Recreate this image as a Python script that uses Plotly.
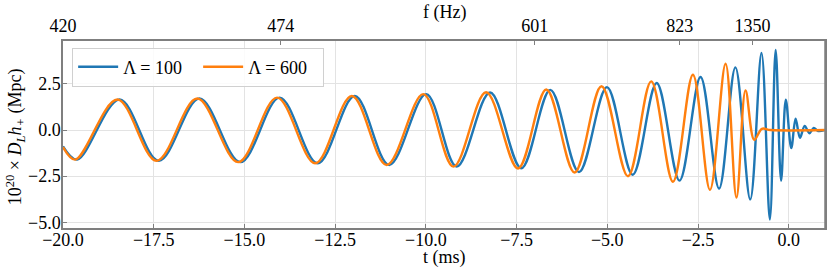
import plotly.graph_objects as go

# ---- data (extrema of each waveform, t in ms) ----
t_l100 = [-20.0, -19.61, -18.44, -17.36, -16.24, -15.11, -14.03, -12.98, -11.96, -11.01,
          -9.99, -9.15, -8.23, -7.37, -6.57, -5.78, -5.01, -4.30, -3.64, -3.01,
          -2.43, -1.92, -1.47, -1.06, -0.75, -0.52, -0.36, -0.21, -0.08, 0.07,
          0.19, 0.31, 0.44, 0.57, 0.69, 0.81, 1.0]
h_l100 = [-0.88, -1.60, 1.66, -1.67, 1.71, -1.74, 1.76, -1.80, 1.85, -1.89,
          1.95, -1.98, 2.04, -2.07, 2.18, -2.28, 2.33, -2.42, 2.55, -2.74,
          2.88, -3.17, 3.40, -3.76, 4.18, -4.85, 4.34, -2.75, 1.65, -0.98,
          0.62, -0.42, 0.23, -0.17, 0.11, -0.05, 0.0]

t_l600 = [-20.0, -19.66, -18.50, -17.42, -16.30, -15.17, -14.10, -13.05, -12.04, -11.08,
          -10.07, -9.24, -8.34, -7.46, -6.68, -5.90, -5.16, -4.43, -3.79, -3.19,
          -2.64, -2.17, -1.74, -1.44, -1.19, -0.95, -0.74, -0.5, 1.0]
h_l600 = [-0.92, -1.60, 1.66, -1.67, 1.71, -1.74, 1.76, -1.80, 1.85, -1.89,
          1.95, -1.98, 2.05, -2.08, 2.20, -2.30, 2.38, -2.50, 2.64, -2.80,
          3.00, -3.24, 3.60, -3.66, 2.15, -0.53, 0.07, 0.0, 0.0]

x_ticks = [-20.0, -17.5, -15.0, -12.5, -10.0, -7.5, -5.0, -2.5, 0.0]
y_ticks = [-5.0, -2.5, 0.0, 2.5]
f_tick_t = [-20, -14, -7, -3, -1]
f_tick_labels = ["420", "474", "601", "823", "1350"]

FONT = "Liberation Serif"
SPINE = "#7f7f7f"
GRID = "#e3e3e3"
TF = dict(family=FONT, size=18, color="black")

fig = go.Figure()
fig.add_trace(go.Scatter(x=t_l100, y=h_l100, mode="lines", name="Λ = 100",
                         line=dict(color="#1f77b4", width=2.4, shape="spline", smoothing=1)))
fig.add_trace(go.Scatter(x=t_l600, y=h_l600, mode="lines", name="Λ = 600",
                         line=dict(color="#ff7f0e", width=2.4, shape="spline", smoothing=1)))
# invisible trace to carry the top frequency axis
fig.add_trace(go.Scatter(x=t_l100, y=h_l100, xaxis="x2", mode="lines", opacity=0,
                         showlegend=False, hoverinfo="skip", line=dict(width=0)))

def fmt(v):
    s = f"{abs(v):.1f}"
    return ("\u2212" + s) if v < 0 else s

axis_common = dict(zeroline=False, ticks="inside", ticklen=4, tickcolor=SPINE, tickwidth=1,
                   showline=True, linecolor=SPINE, linewidth=1.5, automargin=False,
                   tickfont=TF)

fig.update_layout(
    template="none",
    width=830, height=272,
    margin=dict(l=63, r=5, t=41, b=44),
    paper_bgcolor="white", plot_bgcolor="white",
    font=TF,
    showlegend=True,
    legend=dict(orientation="h", x=0.012, y=0.965, xanchor="left", yanchor="top",
                bgcolor="rgba(255,255,255,0.85)", bordercolor="#d0d0d0", borderwidth=1,
                font=TF, entrywidth=70, itemwidth=40, tracegroupgap=0),
    xaxis=dict(range=[-20, 1], tickvals=x_ticks, ticktext=[fmt(v) for v in x_ticks],
               showgrid=True, gridcolor=GRID, gridwidth=1, ticklabelstandoff=-5,
               **axis_common),
    xaxis2=dict(range=[-20, 1], overlaying="x", side="top", anchor="y",
                tickvals=f_tick_t, ticktext=f_tick_labels, showgrid=False, **axis_common),
    yaxis=dict(range=[-5.31, 4.83], tickvals=y_ticks, ticktext=[fmt(v) for v in y_ticks],
               showgrid=True, gridcolor=GRID, gridwidth=1, mirror=True, ticklabelstandoff=-3,
               **axis_common),
)
# axis titles
fig.add_annotation(text="t (ms)", xref="paper", yref="paper", x=0.5, y=-0.16,
                   xanchor="center", yanchor="middle", showarrow=False, font=TF)
fig.add_annotation(text="f (Hz)", xref="paper", yref="paper", x=0.5, y=1.15,
                   xanchor="center", yanchor="middle", showarrow=False, font=TF)
fig.add_annotation(text="10<sup>20</sup> × <i>D<sub>L</sub>h<sub>+</sub></i> (Mpc)",
                   xref="paper", yref="paper", x=-0.063, y=0.49, textangle=-90,
                   xanchor="center", yanchor="middle", showarrow=False, font=TF)
# right spine
fig.add_shape(type="line", xref="paper", yref="paper", x0=1, x1=1, y0=0, y1=1,
              line=dict(color=SPINE, width=1.5))

fig.write_html("out.html", config={"displayModeBar": False},
               post_script="document.body.style.margin='0';document.body.style.overflow='hidden';")
